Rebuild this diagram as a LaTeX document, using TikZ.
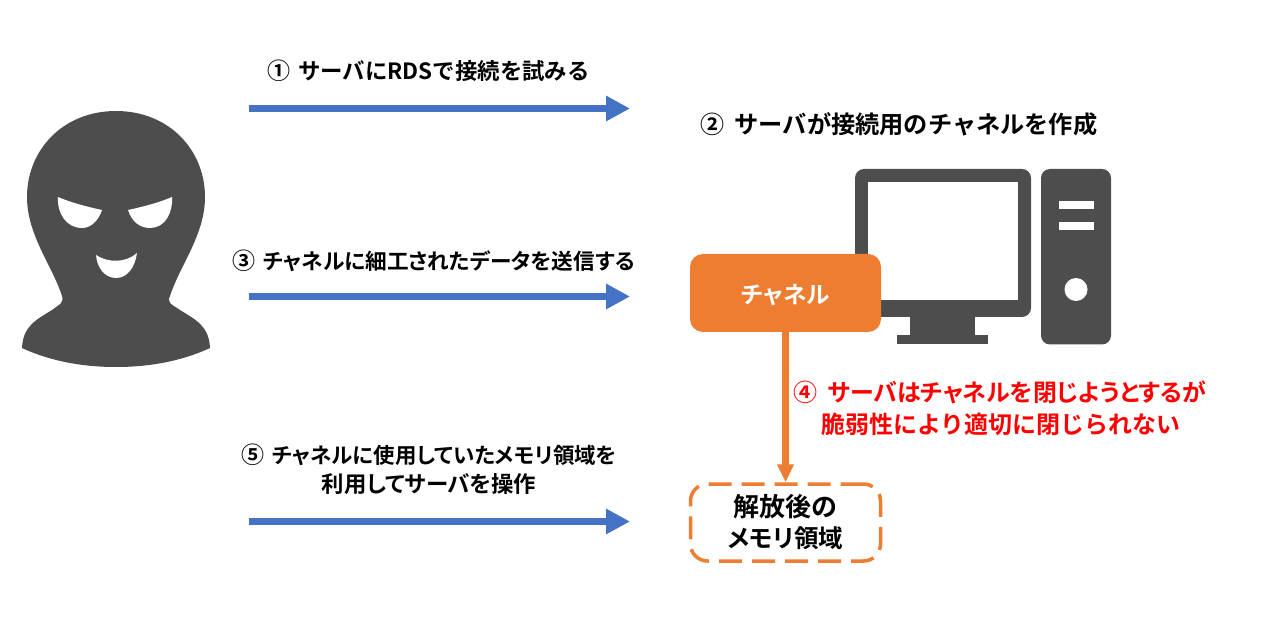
\documentclass[tikz,border=0pt]{standalone}
\usepackage{fontspec}
\setmainfont{Noto Sans CJK JP Bold}[BoldFont=Noto Sans CJK JP Bold]
\newfontfamily\tightface{Noto Sans CJK JP Bold}[RawFeature=+palt]
\usetikzlibrary{arrows.meta}
\definecolor{darkgrey}{HTML}{4D4D4D}
\definecolor{flowblue}{HTML}{4472C4}
\definecolor{accent}{HTML}{ED7D31}
\newcommand{\sized}[2]{\fontsize{#1}{#2}\selectfont}
% step number followed by the gap before its caption
\newcommand{\stepmark}[3]{{\sized{#2}{30}#1}\hspace{#3}}
\tikzset{
  x=1pt,y=-1pt,
  caption/.style={inner sep=0pt,align=center,text=black},
  flow/.style={draw=flowblue,line width=7pt,-{Triangle[length=24pt,width=24pt]}},
  drop/.style={draw=accent,line width=7pt,-{Triangle[length=18pt,width=16pt]}},
  boxed/.style={minimum width=191pt,minimum height=78pt,inner sep=0pt,rounded corners=13pt,align=center},
  solidparts/.style={fill=darkgrey,draw=none},
  cutout/.style={fill=white,draw=none}
}
\begin{document}
\begin{tikzpicture}
\useasboundingbox (0,0) rectangle (1269,617);

% masked figure
\path[solidparts] (116,111)
  .. controls (63,111) and (27,150) .. (27,197)
  .. controls (27,235) and (52,265) .. (62,296)
  .. controls (64,303) and (60,304) .. (52,310)
  .. controls (36,320) and (23,326) .. (22,348)
  .. controls (50,361) and (82,367) .. (116,367)
  .. controls (150,367) and (182,361) .. (210,348)
  .. controls (209,326) and (196,320) .. (180,310)
  .. controls (171,304) and (167,303) .. (170,296)
  .. controls (180,265) and (205,235) .. (205,197)
  .. controls (205,150) and (169,111) .. (116,111) -- cycle;
\path[cutout] (58,197) .. controls (72,203) and (88,207) .. (102,210)
  .. controls (98,222) and (90,228) .. (82,228)
  .. controls (66,228) and (57,213) .. (58,197) -- cycle;
\path[cutout] (172,197) .. controls (158,203) and (142,207) .. (128,210)
  .. controls (132,222) and (140,228) .. (150,228)
  .. controls (165,228) and (173,213) .. (172,197) -- cycle;
\path[cutout] (96,255) .. controls (108,263) and (126,263) .. (137,253)
  .. controls (135,268) and (127,278) .. (116,278)
  .. controls (105,278) and (97,268) .. (96,255) -- cycle;

% computer: monitor and tower
\path[solidparts,rounded corners=9pt] (855,169) rectangle (1031,317);
\path[solidparts] (910,310) rectangle (975,336);
\path[solidparts] (897,335) rectangle (988,344.5);
\path[cutout] (867.5,182) rectangle (1018,300);
\path[solidparts,rounded corners=9pt] (1041,169) rectangle (1111,344.5);
\path[cutout] (1059,201.5) rectangle (1094,209);
\path[cutout] (1059,222.5) rectangle (1094,230);
\path[cutout] (1076,289.5) circle (11.5);

% boxes
\node[boxed,fill=accent,text=white,font=\tightface\sized{23.5}{30}] (channel) at (785.5,293) {\rule{0pt}{24pt}チャネル};
\node[boxed,draw=accent,line width=3.5pt,dash pattern=on 23pt off 10pt,rounded corners=17pt,minimum width=190pt,minimum height=77pt,font=\tightface\sized{26}{32}] (freed) at (785.5,522.5) {\raisebox{-1pt}{解放後の}\\\sized{24.5}{32}メモリ領域};

% flow arrows
\coordinate (a1s) at (249,108.5); \coordinate (a1e) at (630,108.5);
\coordinate (a2s) at (249,296.5); \coordinate (a2e) at (630,296.5);
\coordinate (a3s) at (249,521.5); \coordinate (a3e) at (630,521.5);
\draw[flow] (a1s) -- (a1e);
\draw[flow] (a2s) -- (a2e);
\draw[flow] (a3s) -- (a3e);
\draw[drop] (channel.south) -- (freed.north);

% captions
\node[caption,font=\sized{22.4}{30}] (t1) at (428.5,71) {\stepmark{①}{23}{8pt}サーバにRDSで接続を試みる};
\node[caption,font=\sized{24.2}{32}] (t2) at (899,124) {\stepmark{②}{24}{10pt}サーバが接続用のチャネルを作成};
\node[caption,font=\tightface\sized{21.65}{30}] (t3) at (433.5,261) {\stepmark{③}{23}{8pt}チャネルに細工されたデータを送信する};
\node[caption,text=red,font=\tightface\sized{23.9}{32}] (t4) at (1000,392) {\stepmark{④}{24}{10pt}サーバはチャネルを閉じようとするが};
\node[caption,text=red,font=\sized{24}{32}] (t4b) at (1001,424) {脆弱性により適切に閉じられない};
\node[caption,font=\tightface\sized{21.45}{30}] (t5) at (429,454.5) {\stepmark{⑤}{23}{8pt}チャネルに使用していたメモリ領域を};
\node[caption,font=\tightface\sized{22.4}{30}] (t5b) at (429,484) {利用してサーバを操作};
\end{tikzpicture}
\end{document}
